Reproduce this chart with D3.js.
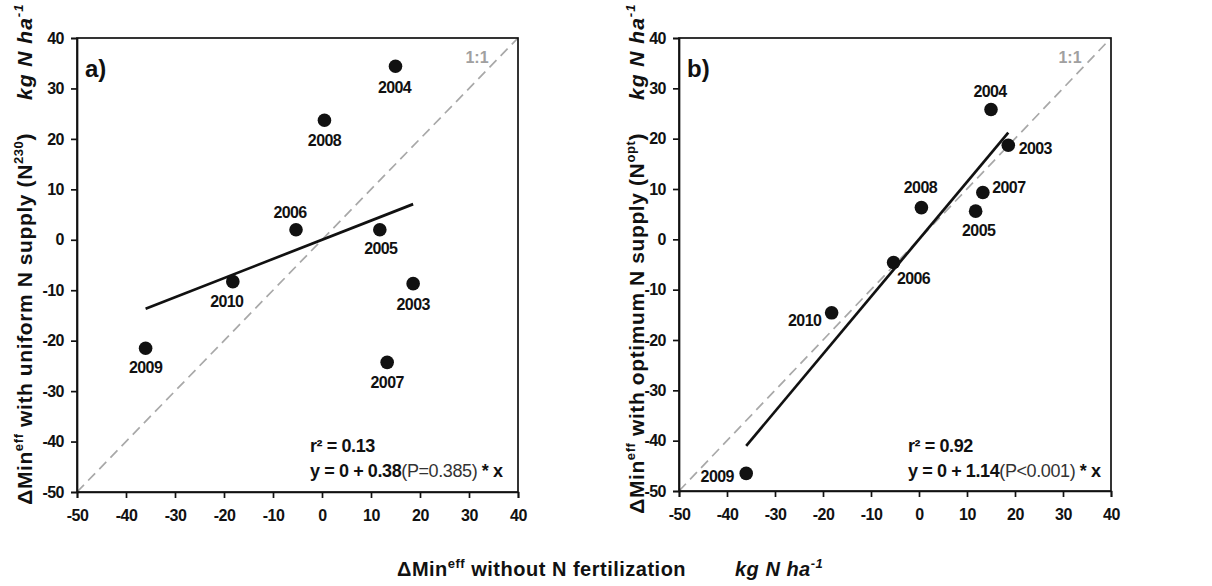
<!DOCTYPE html>
<html>
<head>
<meta charset="utf-8">
<script src="https://cdn.jsdelivr.net/npm/d3@7"></script>
<style>
  html, body { margin: 0; padding: 0; background: #fff; }
  svg { display: block; font-family: "Liberation Sans", Arial, sans-serif; }
</style>
</head>
<body>
<svg id="chart" width="1212" height="586"></svg>
<script>
// ---- data ----
const years      = ["2003", "2004", "2005", "2006", "2007", "2008", "2009", "2010"];
const xWithoutN  = [18.6, 15.0, 11.8, -5.3, 13.3, 0.5, -36.0, -18.2];
const yUniform   = [-8.7, 34.4, 2.0, 2.0, -24.3, 23.7, -21.5, -8.3];
const yOptimum   = [18.7, 25.8, 5.6, -4.6, 9.3, 6.3, -46.5, -14.6];
const slopes     = [0.38, 1.14];
const intercepts = [0, 0];
const rSquared   = ["0.13", "0.92"];
const pValues    = ["(P=0.385)", "(P<0.001)"];
const panelTags  = ["a)", "b)"];
const tickValues = [-50, -40, -30, -20, -10, 0, 10, 20, 30, 40];
const axisDomain = [-50, 40];

// ---- layout (positions / styles) ----
const panels = [
  { left: 77, top: 38, right: 518, bottom: 492, ys: yUniform,
    titleX: 32, sup: "230",
    lab: [[0, 21], [-1, 21], [1, 19], [-6, -17], [0, 20], [0, 20], [0, 19], [-6, 20]] },
  { left: 679, top: 38, right: 1111, bottom: 491, ys: yOptimum,
    titleX: 644, sup: "opt",
    lab: [[27, 3], [-1, -18], [3, 19], [20, 16], [26, -5], [-1, -20], [-29, 3], [-27, 8]] }
];

const svg = d3.select("#chart");
const FONT = "Liberation Sans, Arial, sans-serif";

panels.forEach((p, pi) => {
  const w = p.right - p.left, h = p.bottom - p.top;
  const x = d3.scaleLinear().domain(axisDomain).range([0, w]);
  const y = d3.scaleLinear().domain(axisDomain).range([h, 0]);
  const g = svg.append("g").attr("transform", `translate(${p.left},${p.top})`);

  // 1:1 dashed line
  g.append("line")
    .attr("x1", x(axisDomain[0])).attr("y1", y(axisDomain[0]))
    .attr("x2", x(axisDomain[1])).attr("y2", y(axisDomain[1]))
    .attr("stroke", "#a8a8a8").attr("stroke-width", 1.7)
    .attr("stroke-dasharray", "10,6");

  // regression line
  const xs = xWithoutN;
  const xmin = d3.min(xs), xmax = d3.max(xs);
  const f = v => intercepts[pi] + slopes[pi] * v;
  g.append("line")
    .attr("x1", x(xmin)).attr("y1", y(f(xmin)))
    .attr("x2", x(xmax)).attr("y2", y(f(xmax)))
    .attr("stroke", "#111").attr("stroke-width", 2.7);

  // frame
  g.append("rect").attr("x", 0).attr("y", 0).attr("width", w).attr("height", h)
    .attr("fill", "none").attr("stroke", "#111").attr("stroke-width", 1.7);

  // axes
  const fmt = d => String(d);
  const ax = g.append("g").attr("transform", `translate(0,${h})`)
    .call(d3.axisBottom(x).tickValues(tickValues).tickSize(6).tickPadding(12).tickFormat(fmt));
  const ay = g.append("g")
    .call(d3.axisLeft(y).tickValues(tickValues).tickSize(6).tickPadding(7).tickFormat(fmt));
  [ax, ay].forEach(a => {
    a.attr("font-size", null).attr("font-family", null);
    a.select(".domain").attr("stroke", "#111").attr("stroke-width", 1.7);
    a.selectAll(".tick line").attr("stroke", "#111").attr("stroke-width", 1.7);
    a.selectAll(".tick text").attr("font-size", 16).attr("font-weight", "bold")
      .attr("letter-spacing", -0.5)
      .attr("fill", "#111").attr("font-family", FONT);
  });

  // points
  const pts = years.map((yr, i) => ({ yr, x: xs[i], y: p.ys[i], dx: p.lab[i][0], dy: p.lab[i][1] }));
  g.selectAll("circle.pt").data(pts).enter().append("circle")
    .attr("class", "pt")
    .attr("cx", d => x(d.x)).attr("cy", d => y(d.y)).attr("r", 6.8)
    .attr("fill", "#111");
  g.selectAll("text.yr").data(pts).enter().append("text")
    .attr("class", "yr")
    .attr("x", d => x(d.x) + d.dx).attr("y", d => y(d.y) + d.dy)
    .attr("text-anchor", "middle").attr("dominant-baseline", "central")
    .attr("font-size", 16).attr("font-weight", "bold").attr("fill", "#111")
    .attr("letter-spacing", -0.6)
    .text(d => d.yr);

  // panel tag
  g.append("text").attr("x", 8).attr("y", 39)
    .attr("font-size", 24).attr("font-weight", "bold").attr("fill", "#111")
    .text(panelTags[pi]);

  // 1:1 label
  g.append("text").attr("x", w - 41).attr("y", 25).attr("text-anchor", "middle")
    .attr("font-size", 16).attr("font-weight", "bold").attr("fill", "#a0a0a0")
    .text("1:1");

  // statistics
  const sx = pi === 0 ? 233 : 229;
  const t1 = g.append("text").attr("x", sx).attr("y", 414)
    .attr("font-size", 18).attr("font-weight", "bold").attr("fill", "#111")
    .attr("letter-spacing", -0.4);
  t1.append("tspan").text("r² = " + rSquared[pi]);
  const t2 = g.append("text").attr("x", sx).attr("y", 439)
    .attr("font-size", 18).attr("fill", "#111").attr("letter-spacing", -0.4);
  t2.append("tspan").attr("font-weight", "bold").text("y = " + intercepts[pi] + " + " + slopes[pi].toFixed(2));
  t2.append("tspan").attr("font-weight", "normal").attr("fill", "#333").text(pValues[pi]);
  t2.append("tspan").attr("font-weight", "bold").text(" * x");

  // y-axis title
  const yt = svg.append("text")
    .attr("transform", `translate(${p.titleX},133) rotate(-90)`)
    .attr("text-anchor", "end")
    .attr("font-size", 21).attr("font-weight", "bold").attr("fill", "#111")
    .attr("letter-spacing", 0.6);
  yt.append("tspan").text("ΔMin");
  yt.append("tspan").attr("font-size", 13).attr("dy", -9).text("eff");
  yt.append("tspan").attr("dy", 9).text(pi === 0 ? " with uniform N supply (N" : " with optimum N supply (N");
  yt.append("tspan").attr("font-size", 13).attr("dy", -9).text(p.sup);
  yt.append("tspan").attr("dy", 9).text(")");

  const yk = svg.append("text")
    .attr("transform", `translate(${p.titleX},100) rotate(-90)`)
    .attr("text-anchor", "start")
    .attr("font-size", 21).attr("font-weight", "bold").attr("font-style", "italic").attr("fill", "#111")
    .attr("letter-spacing", 1);
  yk.append("tspan").text("kg N ha");
  yk.append("tspan").attr("font-size", 13).attr("dy", -9).text("-1");
});

// x-axis title
const xt = svg.append("text").attr("x", 397).attr("y", 576)
  .attr("font-size", 20).attr("font-weight", "bold").attr("fill", "#111")
  .attr("letter-spacing", 0.5);
xt.append("tspan").text("ΔMin");
xt.append("tspan").attr("font-size", 13).attr("dy", -8).text("eff");
xt.append("tspan").attr("dy", 8).text(" without N fertilization");

const xk = svg.append("text").attr("x", 735).attr("y", 576)
  .attr("font-size", 20).attr("font-weight", "bold").attr("font-style", "italic").attr("fill", "#111")
  .attr("letter-spacing", 0.5);
xk.append("tspan").text("kg N ha");
xk.append("tspan").attr("font-size", 13).attr("dy", -8).text("-1");
</script>
</body>
</html>
